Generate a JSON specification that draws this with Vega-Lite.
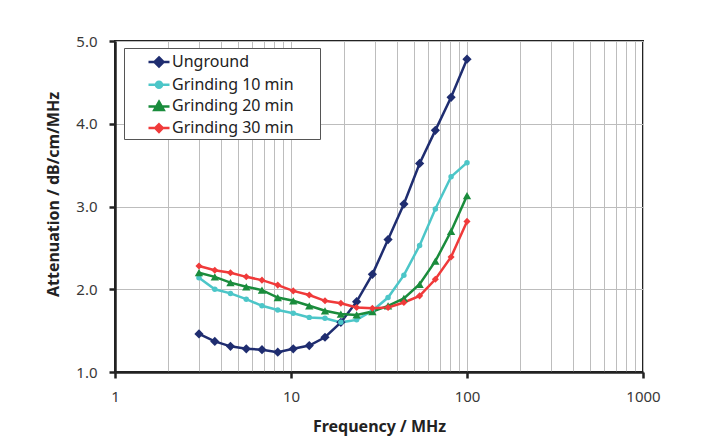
{
  "$schema": "https://vega.github.io/schema/vega-lite/v6.json",
  "autosize": {"type": "none"},
  "padding": {"left": 115, "top": 41, "right": 64, "bottom": 71},
  "width": 528,
  "height": 331,
  "background": "#ffffff",
  "config": {
    "font": "Noto Sans",
    "view": {"stroke": "#222222", "strokeWidth": 2},
    "axis": {
      "labelFont": "Noto Sans",
      "labelFontSize": 15,
      "labelColor": "#383838",
      "titleFont": "Noto Sans",
      "titleFontSize": 16,
      "titleFontWeight": "bold",
      "titleColor": "#222222",
      "domainColor": "#222222",
      "domainWidth": 2.5,
      "tickColor": "#222222",
      "tickWidth": 2.5,
      "tickSize": 6,
      "gridColor": "#bdbdbd",
      "gridWidth": 1
    }
  },
  "data": {
    "values": [
      {"series": "Unground", "f": 3.0, "v": 1.46},
      {"series": "Unground", "f": 3.69, "v": 1.37},
      {"series": "Unground", "f": 4.53, "v": 1.31},
      {"series": "Unground", "f": 5.57, "v": 1.28},
      {"series": "Unground", "f": 6.84, "v": 1.27},
      {"series": "Unground", "f": 8.41, "v": 1.24},
      {"series": "Unground", "f": 10.3, "v": 1.28},
      {"series": "Unground", "f": 12.7, "v": 1.32},
      {"series": "Unground", "f": 15.6, "v": 1.42},
      {"series": "Unground", "f": 19.2, "v": 1.6},
      {"series": "Unground", "f": 23.6, "v": 1.85},
      {"series": "Unground", "f": 29.0, "v": 2.18},
      {"series": "Unground", "f": 35.6, "v": 2.6},
      {"series": "Unground", "f": 43.8, "v": 3.03},
      {"series": "Unground", "f": 53.8, "v": 3.52},
      {"series": "Unground", "f": 66.1, "v": 3.92},
      {"series": "Unground", "f": 81.2, "v": 4.32},
      {"series": "Unground", "f": 100, "v": 4.78},
      {"series": "Grinding 10 min", "f": 3.0, "v": 2.14},
      {"series": "Grinding 10 min", "f": 3.69, "v": 2.0},
      {"series": "Grinding 10 min", "f": 4.53, "v": 1.95},
      {"series": "Grinding 10 min", "f": 5.57, "v": 1.88},
      {"series": "Grinding 10 min", "f": 6.84, "v": 1.8},
      {"series": "Grinding 10 min", "f": 8.41, "v": 1.75},
      {"series": "Grinding 10 min", "f": 10.3, "v": 1.71},
      {"series": "Grinding 10 min", "f": 12.7, "v": 1.66},
      {"series": "Grinding 10 min", "f": 15.6, "v": 1.65},
      {"series": "Grinding 10 min", "f": 19.2, "v": 1.6},
      {"series": "Grinding 10 min", "f": 23.6, "v": 1.63},
      {"series": "Grinding 10 min", "f": 29.0, "v": 1.74},
      {"series": "Grinding 10 min", "f": 35.6, "v": 1.9},
      {"series": "Grinding 10 min", "f": 43.8, "v": 2.17},
      {"series": "Grinding 10 min", "f": 53.8, "v": 2.53},
      {"series": "Grinding 10 min", "f": 66.1, "v": 2.97},
      {"series": "Grinding 10 min", "f": 81.2, "v": 3.36},
      {"series": "Grinding 10 min", "f": 100, "v": 3.53},
      {"series": "Grinding 20 min", "f": 3.0, "v": 2.2},
      {"series": "Grinding 20 min", "f": 3.69, "v": 2.15},
      {"series": "Grinding 20 min", "f": 4.53, "v": 2.08},
      {"series": "Grinding 20 min", "f": 5.57, "v": 2.03},
      {"series": "Grinding 20 min", "f": 6.84, "v": 1.99},
      {"series": "Grinding 20 min", "f": 8.41, "v": 1.9},
      {"series": "Grinding 20 min", "f": 10.3, "v": 1.86},
      {"series": "Grinding 20 min", "f": 12.7, "v": 1.8},
      {"series": "Grinding 20 min", "f": 15.6, "v": 1.74},
      {"series": "Grinding 20 min", "f": 19.2, "v": 1.7},
      {"series": "Grinding 20 min", "f": 23.6, "v": 1.69},
      {"series": "Grinding 20 min", "f": 29.0, "v": 1.73},
      {"series": "Grinding 20 min", "f": 35.6, "v": 1.8},
      {"series": "Grinding 20 min", "f": 43.8, "v": 1.89},
      {"series": "Grinding 20 min", "f": 53.8, "v": 2.06},
      {"series": "Grinding 20 min", "f": 66.1, "v": 2.34},
      {"series": "Grinding 20 min", "f": 81.2, "v": 2.7},
      {"series": "Grinding 20 min", "f": 100, "v": 3.13},
      {"series": "Grinding 30 min", "f": 3.0, "v": 2.28},
      {"series": "Grinding 30 min", "f": 3.69, "v": 2.23},
      {"series": "Grinding 30 min", "f": 4.53, "v": 2.2},
      {"series": "Grinding 30 min", "f": 5.57, "v": 2.15},
      {"series": "Grinding 30 min", "f": 6.84, "v": 2.11},
      {"series": "Grinding 30 min", "f": 8.41, "v": 2.05},
      {"series": "Grinding 30 min", "f": 10.3, "v": 1.98},
      {"series": "Grinding 30 min", "f": 12.7, "v": 1.93},
      {"series": "Grinding 30 min", "f": 15.6, "v": 1.86},
      {"series": "Grinding 30 min", "f": 19.2, "v": 1.83},
      {"series": "Grinding 30 min", "f": 23.6, "v": 1.78},
      {"series": "Grinding 30 min", "f": 29.0, "v": 1.77},
      {"series": "Grinding 30 min", "f": 35.6, "v": 1.78},
      {"series": "Grinding 30 min", "f": 43.8, "v": 1.84},
      {"series": "Grinding 30 min", "f": 53.8, "v": 1.92},
      {"series": "Grinding 30 min", "f": 66.1, "v": 2.12},
      {"series": "Grinding 30 min", "f": 81.2, "v": 2.39},
      {"series": "Grinding 30 min", "f": 100, "v": 2.82}
    ]
  },
  "encoding": {
    "x": {
      "field": "f",
      "type": "quantitative",
      "scale": {"type": "log", "domain": [1, 1000], "nice": false},
      "axis": {
        "title": "Frequency / MHz",
        "values": [1,2,3,4,5,6,7,8,9,10,20,30,40,50,60,70,80,90,100,200,300,400,500,600,700,800,900,1000],
        "format": "d",
        "labelExpr": "(datum.value == 1 || datum.value == 10 || datum.value == 100 || datum.value == 1000) ? datum.label : ''",
        "tickColor": {"condition": {"test": "datum.value == 1 || datum.value == 10 || datum.value == 100 || datum.value == 1000", "value": "#222222"}, "value": "transparent"},
        "labelPadding": 11,
        "titlePadding": 14,
        "labelFlush": false,
        "labelOverlap": false
      }
    },
    "y": {
      "field": "v",
      "type": "quantitative",
      "scale": {"domain": [1, 5], "nice": false, "zero": false},
      "axis": {
        "title": "Attenuation / dB/cm/MHz",
        "values": [1, 2, 3, 4, 5],
        "format": ".1f",
        "labelPadding": 12,
        "titlePadding": 14,
        "titleY": 153
      }
    },
    "color": {
      "field": "series",
      "type": "nominal",
      "scale": {
        "domain": ["Unground", "Grinding 10 min", "Grinding 20 min", "Grinding 30 min"],
        "range": ["#1f2d70", "#4cc6c8", "#1a8c3c", "#f03a3a"]
      },
      "legend": {
        "title": null,
        "orient": "none",
        "legendX": 9,
        "legendY": 7,
        "fillColor": "#ffffff",
        "strokeColor": "#555555",
        "padding": 2,
        "rowPadding": 0.7,
        "symbolSize": 441,
        "symbolOffset": 21,
        "labelOffset": 1,
        "labelLimit": 300,
        "labelFont": "Noto Sans",
        "labelFontSize": 16,
        "labelColor": "#222222",
        "labelExpr": "datum.label + '\u2800\u2800'",
        "encode": {
          "symbols": {
            "update": {
              "shape": {"signal": "datum.value == 'Unground' ? 'M-1,0H1M0,-0.43L0.43,0L0,0.43L-0.43,0Z' : datum.value == 'Grinding 10 min' ? 'M-1,0H1M-0.29,0A0.29,0.29,0,1,0,0.29,0A0.29,0.29,0,1,0,-0.29,0Z' : datum.value == 'Grinding 20 min' ? 'M-1,0H1M0,-0.45L0.45,0.35L-0.45,0.35Z' : 'M-1,0H1M0,-0.36L0.36,0L0,0.36L-0.36,0Z'"},
              "size": {"value": 441},
              "stroke": {"signal": "scale('color', datum.value)"},
              "fill": {"signal": "scale('color', datum.value)"},
              "strokeWidth": {"value": 2.5},
              "opacity": {"value": 1},
              "fillOpacity": {"value": 1},
              "strokeOpacity": {"value": 1}
            }
          }
        }
      }
    }
  },
  "layer": [
    {
      "mark": {"type": "line", "strokeWidth": 2.5}
    },
    {
      "transform": [{"filter": "datum.series == 'Unground'"}],
      "mark": {"type": "point", "filled": true, "opacity": 1, "shape": "diamond", "size": 85}
    },
    {
      "transform": [{"filter": "datum.series == 'Grinding 10 min'"}],
      "mark": {"type": "point", "filled": true, "opacity": 1, "shape": "circle", "size": 30}
    },
    {
      "transform": [{"filter": "datum.series == 'Grinding 20 min'"}],
      "mark": {"type": "point", "filled": true, "opacity": 1, "shape": "triangle-up", "size": 70}
    },
    {
      "transform": [{"filter": "datum.series == 'Grinding 30 min'"}],
      "mark": {"type": "point", "filled": true, "opacity": 1, "shape": "diamond", "size": 50}
    }
  ]
}
